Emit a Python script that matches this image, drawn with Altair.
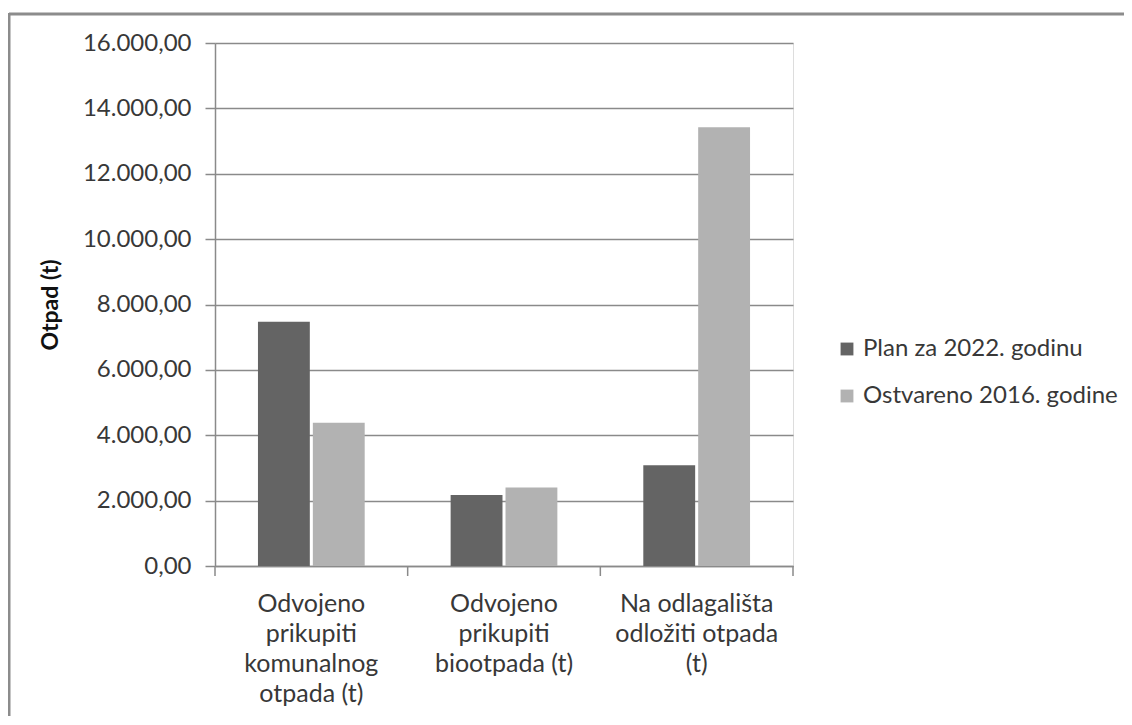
import altair as alt
import pandas as pd

categories = [
    "Odvojeno|prikupiti|komunalnog|otpada (t)",
    "Odvojeno|prikupiti|biootpada (t)",
    "Na odlagališta|odložiti otpada|(t)",
]
series = ["Plan za 2022. godinu", "Ostvareno 2016. godine"]
plan_2022 = [7470, 2170, 3080]
ostvareno_2016 = [4380, 2400, 13420]
y_ticks = [0, 2000, 4000, 6000, 8000, 10000, 12000, 14000, 16000]

rows = []
for c, v in zip(categories, plan_2022):
    rows.append({"cat": c, "series": series[0], "value": v})
for c, v in zip(categories, ostvareno_2016):
    rows.append({"cat": c, "series": series[1], "value": v})
df = pd.DataFrame(rows)
cat_df = pd.DataFrame({"cat": categories})

FONT = "Lato"
TXT = "#383838"
GRID = "#8a8a8a"
W, H = 578, 523

P_IN = 0.446
xscale = alt.Scale(paddingInner=P_IN, paddingOuter=P_IN / 2)
edge_scale = alt.Scale(domain=categories, paddingInner=0, paddingOuter=0)

bars = alt.Chart(df).mark_bar().encode(
    x=alt.X(
        "cat:N", sort=categories, scale=xscale,
        axis=alt.Axis(
            title=None, ticks=False, labelAngle=0,
            labelExpr="split(datum.label, '|')",
            labelFontSize=25, labelLineHeight=30, labelPadding=25,
            labelColor=TXT, labelFont=FONT, domainColor=GRID, domainWidth=1.5,
            labelBaseline="top", labelLimit=300,
        ),
    ),
    xOffset=alt.XOffset("series:N", sort=series, scale=alt.Scale(paddingInner=0.055)),
    y=alt.Y(
        "value:Q",
        scale=alt.Scale(domain=[0, 16000]),
        axis=alt.Axis(
            title="Otpad (t)", values=y_ticks,
            labelExpr="replace(replace(replace(format(datum.value, ',.2f'), ',', '#'), '.', ','), '#', '.')",
            labelFontSize=24, labelColor=TXT, labelFont=FONT, labelPadding=14,
            tickSize=10, tickColor=GRID, tickWidth=1.5,
            domainColor=GRID, domainWidth=1.5,
            gridColor=GRID, gridWidth=1.3,
            titleFont=FONT, titleFontSize=23, titleFontWeight="bold", titleColor="#111111",
            titlePadding=20,
        ),
    ),
    color=alt.Color(
        "series:N", sort=series,
        scale=alt.Scale(domain=series, range=["#646464", "#b2b2b2"]),
        legend=alt.Legend(
            title=None, orient="none", legendX=620, legendY=294,
            symbolType="square", symbolSize=165, symbolStrokeWidth=0,
            labelFontSize=24, labelFont=FONT, labelColor=TXT, labelLimit=400,
            rowPadding=23, labelOffset=4,
        ),
    ),
)

ticks_left = alt.Chart(cat_df).mark_rule(color=GRID, strokeWidth=1.5).encode(
    x=alt.X("cat:N", scale=edge_scale, bandPosition=0, axis=None),
    y=alt.value(H),
    y2=alt.value(H + 10),
)
ticks_end = alt.Chart(cat_df.iloc[-1:]).mark_rule(color=GRID, strokeWidth=1.5).encode(
    x=alt.X("cat:N", scale=edge_scale, bandPosition=1, axis=None),
    y=alt.value(H),
    y2=alt.value(H + 10),
)
tick_layer = alt.layer(ticks_left, ticks_end)

frame = alt.Data(values=[{"k": 1}])
frame_top = alt.Chart(frame).mark_rule(color="#8c8c8c", strokeWidth=3).encode(
    x=alt.value(-206), x2=alt.value(915), y=alt.value(-29)
)
frame_left = alt.Chart(frame).mark_rule(color="#8c8c8c", strokeWidth=3).encode(
    x=alt.value(-206), y=alt.value(-30), y2=alt.value(H + 160)
)

chart = alt.layer(bars, tick_layer, frame_top, frame_left).resolve_scale(
    x="independent"
).resolve_axis(x="independent").properties(
    width=W, height=H,
    autosize=alt.AutoSizeParams(type="none"),
    padding={"left": 207, "top": 35, "right": 331, "bottom": 150},
).configure_view(stroke=None).configure(background="white")

chart.save("out.html", embed_options={"renderer": "svg", "actions": False})
